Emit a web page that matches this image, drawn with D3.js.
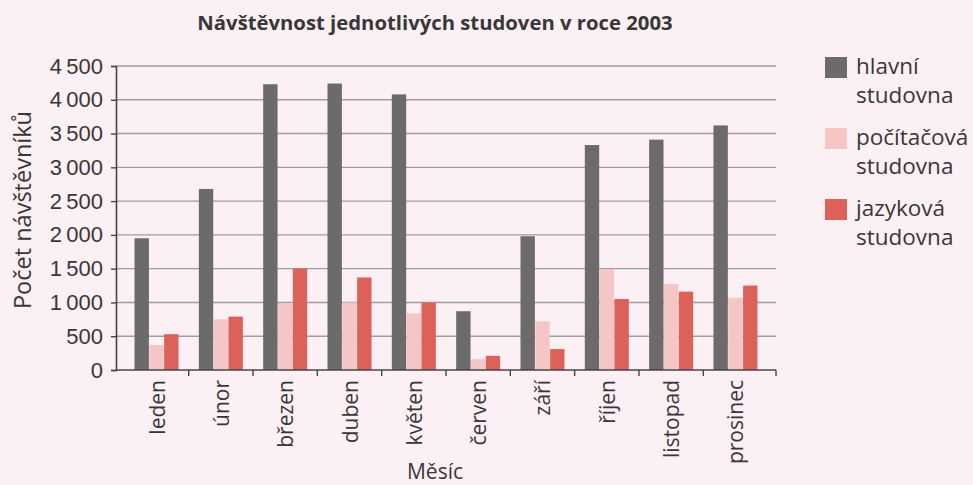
<!DOCTYPE html>
<html>
<head>
<meta charset="utf-8">
<script src="https://cdn.jsdelivr.net/npm/d3@7"></script>
<style>
  html, body { margin: 0; padding: 0; background: #fbf0f3; }
  svg { display: block; font-family: "Open Sans", "Noto Sans", sans-serif; }
</style>
</head>
<body>
<svg id="chart" width="973" height="485"></svg>
<script>
// months and visitors per study room
const months = ["leden", "únor", "březen", "duben", "květen", "červen", "září", "říjen", "listopad", "prosinec"];
const hlavni = [1950, 2680, 4230, 4240, 4080, 870, 1980, 3330, 3410, 3620];
const pocitacova = [370, 750, 990, 1000, 840, 160, 720, 1490, 1270, 1070];
const jazykova = [530, 790, 1500, 1370, 1000, 210, 310, 1050, 1160, 1250];
const seriesNames = ["hlavní studovna", "počítačová studovna", "jazyková studovna"];
const yTicks = [0, 500, 1000, 1500, 2000, 2500, 3000, 3500, 4000, 4500];

const colors = ["#6d6a6b", "#f6c6c7", "#db6159"];
const textColor = "#3b3637";

const svg = d3.select("#chart");
const plotLeft = 116, plotRight = 776, plotTop = 66, plotBottom = 370;

const x = d3.scaleBand().domain(months).range([plotLeft, plotRight]).paddingInner(0).paddingOuter(0.13);
const y = d3.scaleLinear().domain([0, 4500]).range([plotBottom, plotTop]);

const groupW = 44;
const x1 = d3.scaleBand().domain([0, 1, 2]).range([0, groupW]).paddingInner(0.03);

// gridlines
svg.append("g")
  .selectAll("line")
  .data(yTicks.filter(d => d > 0))
  .join("line")
  .attr("x1", plotLeft).attr("x2", plotRight)
  .attr("y1", d => y(d)).attr("y2", d => y(d))
  .attr("stroke", "#a39b9d").attr("stroke-width", 1.4);

// bars
const series = [hlavni, pocitacova, jazykova];
const rows = months.map((m, i) => ({ m, vals: series.map(s => s[i]) }));
const groups = svg.append("g").selectAll("g")
  .data(rows)
  .join("g")
  .attr("transform", d => `translate(${x(d.m) + x.bandwidth() / 2 - groupW / 2},0)`);
groups.selectAll("rect")
  .data(d => d.vals.map((v, k) => ({ v, k })))
  .join("rect")
  .attr("x", d => x1(d.k))
  .attr("width", x1.bandwidth())
  .attr("y", d => y(d.v))
  .attr("height", d => y(0) - y(d.v))
  .attr("fill", d => colors[d.k]);

// y axis
const fmt = v => v >= 1000 ? d3.format(",")(v).replace(",", "\u2009") : String(v);
const yAxis = svg.append("g")
  .attr("transform", `translate(${plotLeft},0)`)
  .call(d3.axisLeft(y).tickValues(yTicks).tickSize(5).tickPadding(8).tickFormat(fmt));
yAxis.select(".domain").attr("stroke", "#4a4445").attr("stroke-width", 1.6);
yAxis.selectAll(".tick line").attr("stroke", "#4a4445").attr("stroke-width", 1.4);
yAxis.selectAll("text").attr("fill", textColor).attr("font-size", 22);

// x axis line with ticks at category boundaries
const xg = svg.append("g");
xg.append("line")
  .attr("x1", plotLeft).attr("x2", plotRight)
  .attr("y1", plotBottom).attr("y2", plotBottom)
  .attr("stroke", "#4a4445").attr("stroke-width", 1.6);
const bounds = months.slice(1).map(m => x(m)).concat([plotRight]);
xg.selectAll("line.t")
  .data(bounds)
  .join("line")
  .attr("class", "t")
  .attr("x1", d => d).attr("x2", d => d)
  .attr("y1", plotBottom).attr("y2", plotBottom + 6)
  .attr("stroke", "#4a4445").attr("stroke-width", 1.4);

// month labels
xg.selectAll("text")
  .data(months)
  .join("text")
  .attr("transform", d => `translate(${x(d) + x.bandwidth() / 2 + 8},${plotBottom + 10}) rotate(-90)`)
  .attr("text-anchor", "end")
  .attr("fill", textColor)
  .attr("font-size", 21)
  .text(d => d);

// titles
svg.append("text")
  .attr("x", 435).attr("y", 30)
  .attr("text-anchor", "middle")
  .attr("font-weight", "bold")
  .attr("font-size", 20.3)
  .attr("fill", textColor)
  .text("Návštěvnost jednotlivých studoven v roce 2003");

svg.append("text")
  .attr("transform", "translate(31,210) rotate(-90)")
  .attr("text-anchor", "middle")
  .attr("font-size", 23.5)
  .attr("fill", textColor)
  .text("Počet návštěvníků");

svg.append("text")
  .attr("x", 435).attr("y", 479)
  .attr("text-anchor", "middle")
  .attr("font-size", 21)
  .attr("fill", textColor)
  .text("Měsíc");

// legend
const legend = svg.append("g").attr("transform", "translate(825,57)");
const li = legend.selectAll("g")
  .data(seriesNames)
  .join("g")
  .attr("transform", (d, i) => `translate(0,${i * 71})`);
li.append("rect")
  .attr("width", 22).attr("height", 21)
  .attr("fill", (d, i) => colors[i]);
li.append("text")
  .attr("x", 31).attr("y", 17)
  .attr("fill", textColor)
  .attr("font-size", 22.5)
  .selectAll("tspan")
  .data(d => d.split(" "))
  .join("tspan")
  .attr("x", 31)
  .attr("dy", (d, i) => i === 0 ? 0 : 29)
  .text(d => d);
</script>
</body>
</html>
